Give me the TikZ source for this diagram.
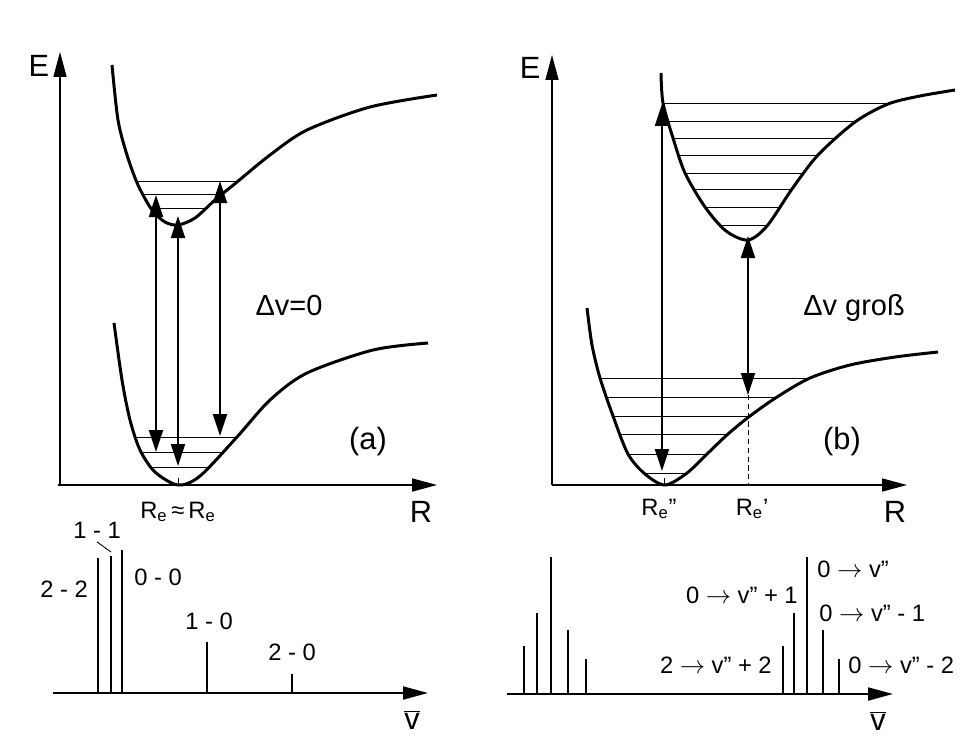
\documentclass[tikz,border=0pt]{standalone}
\usepackage{fontspec}
\setmainfont{Liberation Sans}
\usetikzlibrary{arrows.meta, positioning}

\tikzset{
  pot/.style={line width=1.7pt},
  lvl/.style={line width=0.5pt},
  axis/.style={line width=0.9pt, -{Triangle[length=5mm, width=2.6mm]}},
  trans/.style={line width=1.1pt, {Triangle[length=4.4mm, width=2.8mm]}-{Triangle[length=4.4mm, width=2.8mm]}},
  sline/.style={line width=1.4pt},
  lbl/.style={inner sep=0pt, font=\fontsize{13.5}{16}\selectfont},
  mid/.style={inner sep=0pt, font=\fontsize{16.5}{19}\selectfont},
  big/.style={inner sep=0pt, font=\fontsize{17.5}{20}\selectfont}
}

\def\wellAup{plot[smooth] coordinates {(112,65) (118,120) (127,155) (138,185) (152,210) (165,222) (178,225) (195,218) (215,200) (237,182) (270,155) (307,130) (370,107) (437,95)}}
\def\wellAlo{plot[smooth] coordinates {(114,323) (122,380) (130,420) (140,450) (155,472) (178,485) (200,476) (237,437) (270,400) (307,373) (373,350) (428,343)}}
\def\wellBup{plot[smooth] coordinates {(661,73) (663,103) (673,138) (685,173) (705,207) (726,231) (748,240) (767,226) (792,189) (818,155) (855,122) (888,104) (920,96) (955,90)}}
\def\wellBlo{plot[smooth] coordinates {(587,308) (592,345) (600,378) (613,416) (628,454) (645,474) (665,485) (687,473) (707,454) (728,434) (750,416) (777,397) (810,378) (850,365) (895,357) (938,352)}}

\begin{document}
\begin{tikzpicture}[x=0.02cm, y=-0.02cm]
  \useasboundingbox (0,0) rectangle (962,744);

  % (a) potential curves
  \coordinate (oA) at (60,485);
  \coordinate (eA) at (60,52);
  \coordinate (rA) at (437,485);
  \draw[axis] (oA) -- (eA);
  \draw[axis] (58,485) -- (rA);
  \node[big] (EA) at (39,66) {E};
  \node[big] (RA) at (421,512) {R};

  \begin{scope}
    \clip \wellAup -- (437,0) -- (112,0) -- cycle;
    \foreach \y in {181,194,208} \draw[lvl] (100,\y) -- (450,\y);
  \end{scope}
  \begin{scope}
    \clip \wellAlo -- (428,0) -- (114,0) -- cycle;
    \foreach \y in {437,452,467} \draw[lvl] (100,\y) -- (450,\y);
  \end{scope}
  \draw[pot] \wellAup;
  \draw[pot] \wellAlo;
  \draw[lvl] (178,478) -- (178,485);

  \coordinate (a1u) at (156,195);
  \coordinate (a1l) at (156,452);
  \coordinate (a2u) at (178,216);
  \coordinate (a2l) at (178,466);
  \coordinate (a3u) at (220,181);
  \coordinate (a3l) at (220,436);
  \draw[trans] (a1l) -- (a1u);
  \draw[trans] (a2l) -- (a2u);
  \draw[trans] (a3l) -- (a3u);

  \node[mid, anchor=base] (dvA) at (289,315) {Δv=0};
  \node[big] (panA) at (368,442) {(a)};
  \node[lbl, anchor=base] (reA) at (178,518) {R\textsubscript{e}\,≈\,R\textsubscript{e}};

  % (b) potential curves
  \coordinate (oB) at (552,485);
  \coordinate (eB) at (552,55);
  \coordinate (rB) at (907,485);
  \draw[axis] (oB) -- (eB);
  \draw[axis] (oB) -- (rB);
  \node[big] (EB) at (530,68) {E};
  \node[big] (RB) at (895,512) {R};

  \begin{scope}
    \clip \wellBup -- (955,0) -- (661,0) -- cycle;
    \foreach \y in {103,121,138,155,173,189,207,225} \draw[lvl] (600,\y) -- (960,\y);
  \end{scope}
  \begin{scope}
    \clip \wellBlo -- (938,0) -- (587,0) -- cycle;
    \foreach \y in {378,397,416,434,454,473} \draw[lvl] (580,\y) -- (940,\y);
  \end{scope}
  \draw[pot] \wellBup;
  \draw[pot] \wellBlo;
  \draw[lvl] (664,478) -- (664,485);

  \coordinate (b1u) at (662,104);
  \coordinate (b1l) at (662,471);
  \coordinate (b2u) at (748,236);
  \coordinate (b2l) at (748,395);
  \coordinate (b2r) at (748,485);
  \draw[trans] (b1l) -- (b1u);
  \draw[trans] (b2l) -- (b2u);
  \draw[lvl, dash pattern=on 3pt off 2pt] (b2l) -- (b2r);

  \node[mid, anchor=base] (dvB) at (854,315) {Δv groß};
  \node[big] (panB) at (842,442) {(b)};
  \node[lbl, anchor=base] (reB2) at (659,515) {R\textsubscript{e}''};
  \node[lbl, anchor=base] (reB1) at (752,515) {R\textsubscript{e}'};

  % spectrum (a)
  \coordinate (sA0) at (53,693);
  \coordinate (sA1) at (428,693);
  \draw[axis, line width=1.1pt] (sA0) -- (sA1);
  \foreach \x/\t in {98/558, 111/556, 122/550, 207/642, 292/674}
    \draw[sline] (\x,693) -- (\x,\t);
  \node[big] (nuA) at (412,720) {$\overline{\hbox{v}}$};
  \node[lbl, anchor=base] (s22) at (64,597) {2 - 2};
  \node[lbl, anchor=base] (s11) at (97,538) {1 - 1};
  \node[lbl, anchor=base] (s00) at (158,585) {0 - 0};
  \node[lbl, anchor=base] (s10) at (209,629) {1 - 0};
  \node[lbl, anchor=base] (s20) at (292,660) {2 - 0};
  \coordinate (t11) at (111,552);
  \draw[lvl] ([yshift=-2pt]s11.south) -- (t11);

  % spectrum (b)
  \coordinate (sB0) at (507,694);
  \coordinate (sB1) at (893,694);
  \draw[axis, line width=1.1pt] (sB0) -- (sB1);
  \foreach \x/\t in {524/646, 537/613, 551/557, 568/630, 586/659, 783/646, 794/613, 807/557, 823/630, 839/659}
    \draw[line width=0.9pt] (\x,694) -- (\x,\t);
  \node[big] (nuB) at (878,721) {$\overline{\hbox{v}}$};
  \node[lbl, anchor=base west] (q0) at (817,577) {0 $\rightarrow$ v''};
  \node[lbl, anchor=base east] (q1) at (798,603) {0 $\rightarrow$ v'' + 1};
  \node[lbl, anchor=base west] (qm1) at (819,621) {0 $\rightarrow$ v'' - 1};
  \node[lbl, anchor=base east] (q2) at (772,673) {2 $\rightarrow$ v'' + 2};
  \node[lbl, anchor=base west] (qm2) at (848,673) {0 $\rightarrow$ v'' - 2};
\end{tikzpicture}
\end{document}
